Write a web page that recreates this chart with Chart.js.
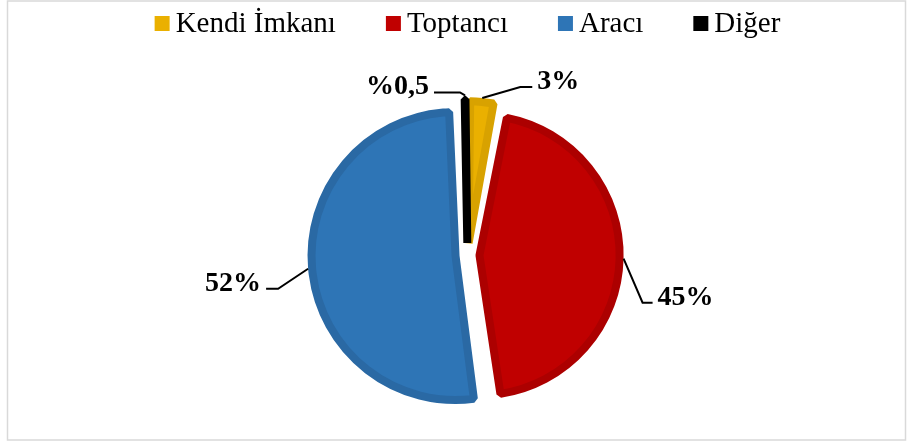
<!DOCTYPE html>
<html>
<head>
<meta charset="utf-8">
<script src="https://cdn.jsdelivr.net/npm/chart.js@4"></script>
<style>
  html, body { margin: 0; padding: 0; background: #fff; }
  #wrap { position: relative; width: 911px; height: 443px; }
</style>
</head>
<body>
<div id="wrap"><canvas id="pieChart"></canvas></div>
<script>
const categories = ['Kendi İmkanı', 'Toptancı', 'Aracı', 'Diğer'];
const shares = [3, 45, 52, 0.5];
const shareLabels = ['3%', '45%', '52%', '%0,5'];
const fillColors = ['#EAB000', '#C00000', '#2E75B6', '#000000'];
const rimColors = ['#D8A200', '#AC0000', '#2A69A4', '#000000'];

// leader lines: elbow relative to the slice edge, then a short flat run
const leaderLayout = [
  { dx: 38, dy: -11, run: 12 },
  { dx: 19, dy: 44, run: 10 },
  { dx: -30, dy: 20, run: -12 },
  { dx: -5, dy: -3, run: -26 }
];

const serif = "'Liberation Serif', 'Times New Roman', serif";

const framePlugin = {
  id: 'frame',
  beforeDraw(chart) {
    const c = chart.ctx;
    c.save();
    c.strokeStyle = '#D9D9D9';
    c.lineWidth = 1.5;
    c.strokeRect(7.5, 1, 898, 439);
    c.restore();
  }
};

const legendPlugin = {
  id: 'topLegend',
  afterDraw(chart) {
    const c = chart.ctx;
    c.save();
    c.font = '29px ' + serif;
    const box = 15, gap = 6, spacing = 50;
    const widths = categories.map(t => box + gap + c.measureText(t).width);
    const total = widths.reduce((a, b) => a + b, 0) + spacing * (categories.length - 1);
    let x = (chart.chartArea.left + chart.chartArea.right) / 2 - total / 2;
    categories.forEach((t, i) => {
      c.fillStyle = fillColors[i];
      c.fillRect(x, 16, box, box);
      c.fillStyle = '#000';
      c.textBaseline = 'alphabetic';
      c.textAlign = 'left';
      c.fillText(t, x + box + gap, 32);
      x += widths[i] + spacing;
    });
    c.restore();
  }
};

const leaderPlugin = {
  id: 'leaders',
  afterDatasetsDraw(chart) {
    const c = chart.ctx;
    const meta = chart.getDatasetMeta(0);
    c.save();
    c.strokeStyle = '#000';
    c.lineWidth = 2;
    c.fillStyle = '#000';
    c.font = 'bold 28px ' + serif;
    c.textBaseline = 'alphabetic';
    meta.data.forEach((arc, i) => {
      const mid = (arc.startAngle + arc.endAngle) / 2;
      const shift = (arc.options.offset || 0) / 4;
      const fix = 1 - Math.sin(Math.min(Math.PI, arc.circumference));
      const r = shift + arc.outerRadius + shift * fix + arc.options.borderWidth / 2;
      const ax = arc.x + Math.cos(mid) * r;
      const ay = arc.y + Math.sin(mid) * r;
      const lay = leaderLayout[i];
      const ex = ax + lay.dx, ey = ay + lay.dy;
      const fx = ex + lay.run;
      c.beginPath();
      c.moveTo(ax, ay);
      c.lineTo(ex, ey);
      c.lineTo(fx, ey);
      c.stroke();
      c.textAlign = lay.run > 0 ? 'left' : 'right';
      c.fillText(shareLabels[i], fx + (lay.run > 0 ? 5 : -5), ey + 2);
    });
    c.restore();
  }
};

new Chart(document.getElementById('pieChart'), {
  type: 'pie',
  data: {
    labels: categories,
    datasets: [{
      data: shares,
      backgroundColor: fillColors,
      borderColor: rimColors,
      borderWidth: 8,
      offset: 48
    }]
  },
  options: {
    responsive: true,
    maintainAspectRatio: false,
    animation: false,
    events: [],
    radius: 132,
    layout: { padding: { top: 67, left: 24, right: 0, bottom: 0 } },
    plugins: {
      legend: { display: false },
      tooltip: { enabled: false }
    }
  },
  plugins: [framePlugin, legendPlugin, leaderPlugin]
});
</script>
</body>
</html>
